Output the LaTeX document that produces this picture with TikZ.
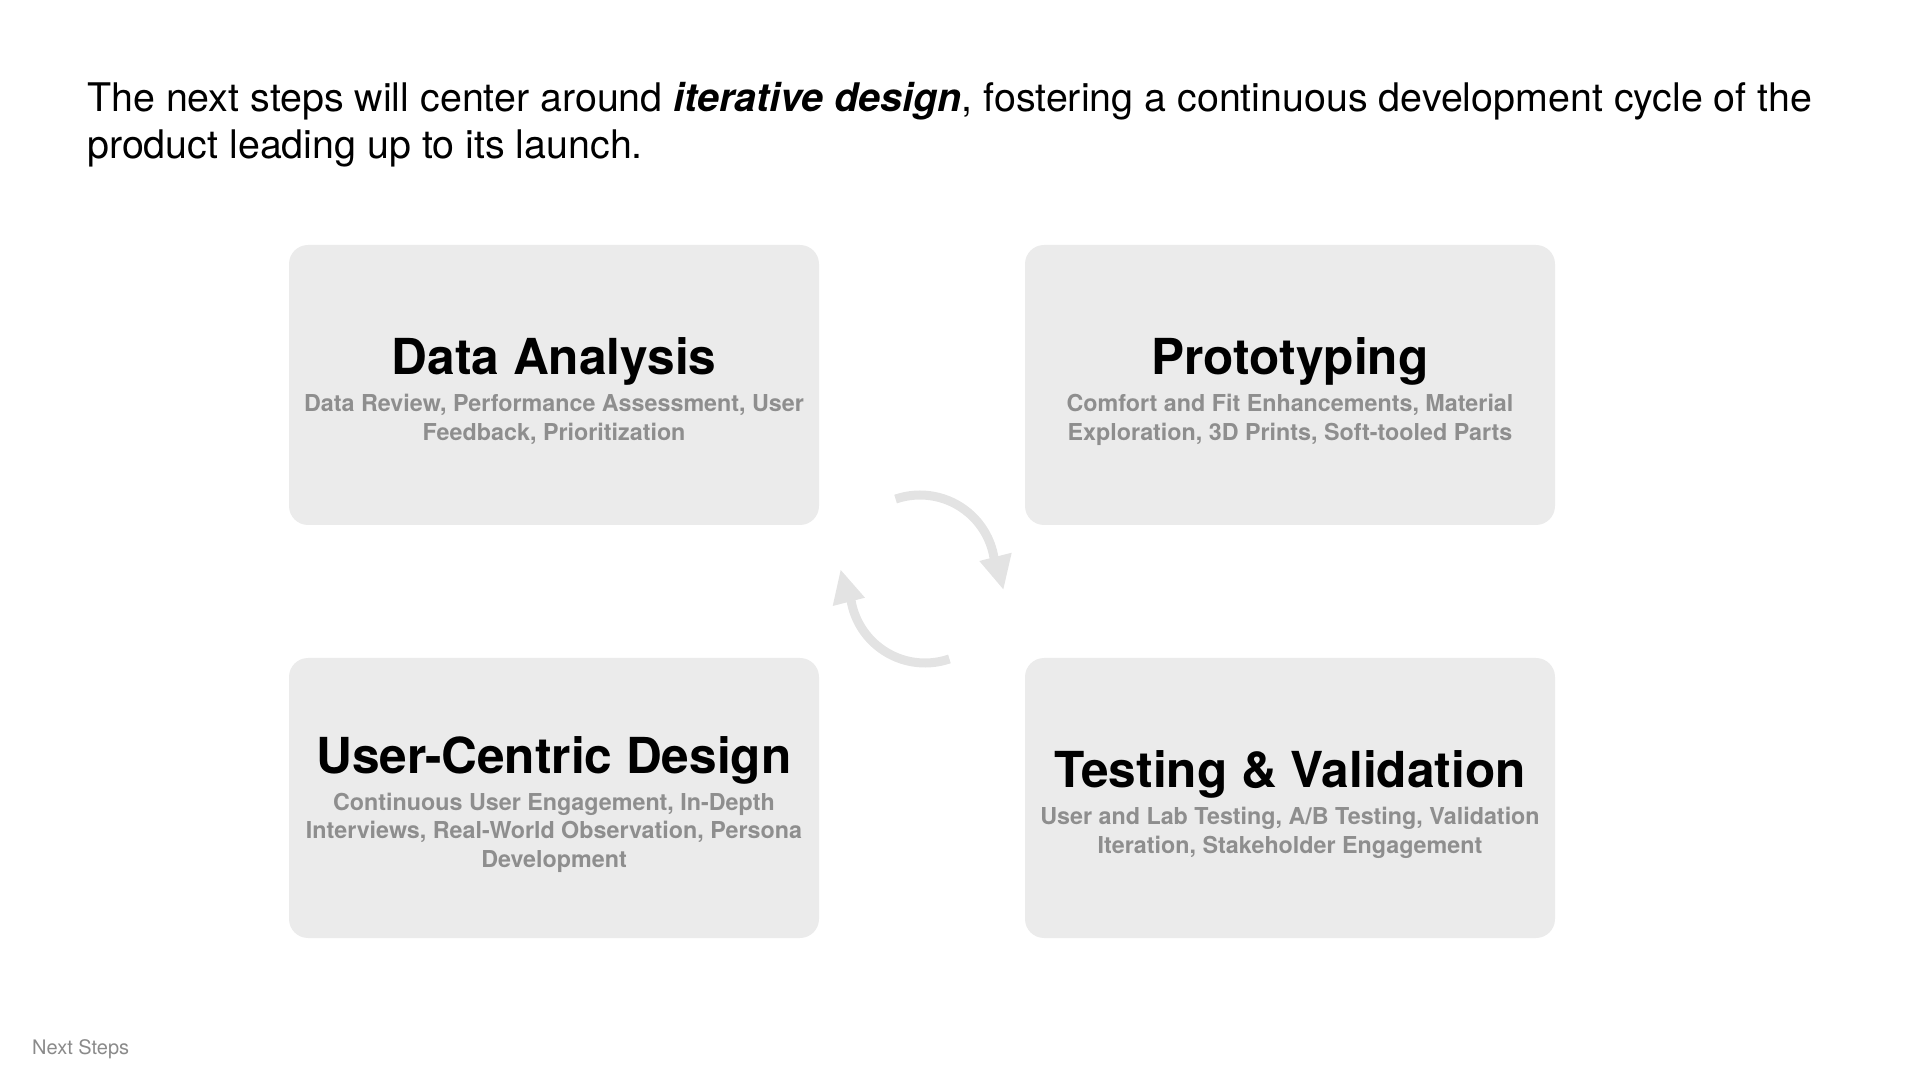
\documentclass[tikz,border=0pt]{standalone}
\usepackage{fontspec}
\setmainfont{TeX Gyre Heros}
\usetikzlibrary{calc}
\definecolor{boxfill}{HTML}{EBEBEB}
\definecolor{subgray}{HTML}{8E8E8E}
\definecolor{arrowgray}{HTML}{E3E3E3}
\definecolor{footgray}{HTML}{8A8A8A}
\begin{document}
\begin{tikzpicture}[x=1pt,y=1pt,
  stagebox/.style={rectangle, rounded corners=19pt, fill=boxfill, minimum width=530pt, minimum height=280pt, inner sep=0pt},
  stagetitle/.style={anchor=base, inner sep=0pt, font=\fontsize{49.6}{59}\selectfont\bfseries, text=black},
  stagesub/.style={anchor=base, inner sep=0pt, align=center, font=\fontsize{23.3}{28.7}\selectfont\bfseries, text=subgray},
  cyclearrow/.style={draw=arrowgray, line width=9pt},
  cyclehead/.style={fill=arrowgray, draw=none}]
\useasboundingbox (0,0) rectangle (1920,1080);

\node[anchor=base west, inner sep=0pt, align=left, font=\fontsize{39.4}{46.6}\selectfont] (lead) at (87,921.7)
  {The next steps will center around \textbf{\textit{iterative design}}, fostering a continuous development cycle of the\\product leading up to its launch.};

\node[stagebox] (da) at (554,695) {};
\node[stagebox] (pr) at (1290,695) {};
\node[stagebox] (ucd) at (554,282) {};
\node[stagebox] (tv) at (1290,282) {};

\node[stagetitle] (daT) at ([yshift=10pt]da.center) {Data Analysis};
\node[stagesub] (daS) at ([yshift=-55.5pt]da.center) {Data Review, Performance Assessment, User\\Feedback, Prioritization};

\node[stagetitle] (prT) at ([yshift=10pt]pr.center) {Prototyping};
\node[stagesub] (prS) at ([yshift=-55.5pt]pr.center) {Comfort and Fit Enhancements, Material\\Exploration, 3D Prints, Soft-tooled Parts};

\node[stagetitle] (ucdT) at ([yshift=24.3pt]ucd.center) {User-Centric Design};
\node[stagesub] (ucdS) at ([yshift=-69.5pt]ucd.center) {Continuous User Engagement, In-Depth\\Interviews, Real-World Observation, Persona\\Development};

\node[stagetitle] (tvT) at ([yshift=10pt]tv.center) {Testing \& Validation};
\node[stagesub] (tvS) at ([yshift=-55.5pt]tv.center) {User and Lab Testing, A/B Testing, Validation\\Iteration, Stakeholder Engagement};

\coordinate (c1) at (920,510);
\coordinate (c2) at (925,492);
\draw[cyclearrow] ($(c1)+(109:75)$) arc[start angle=109, end angle=7, radius=75];
\fill[cyclehead] (979.3,519) -- (1011.7,527.3) -- (1003.3,490.7) -- cycle;
\draw[cyclearrow] ($(c2)+(289:75)$) arc[start angle=289, end angle=187, radius=75];
\fill[cyclehead] (832.7,474) -- (865,482.3) -- (840.7,510) -- cycle;

\node[anchor=base west, inner sep=0pt, font=\fontsize{20}{24}\selectfont, text=footgray] (foot) at (32,25.5) {Next Steps};
\end{tikzpicture}
\end{document}
